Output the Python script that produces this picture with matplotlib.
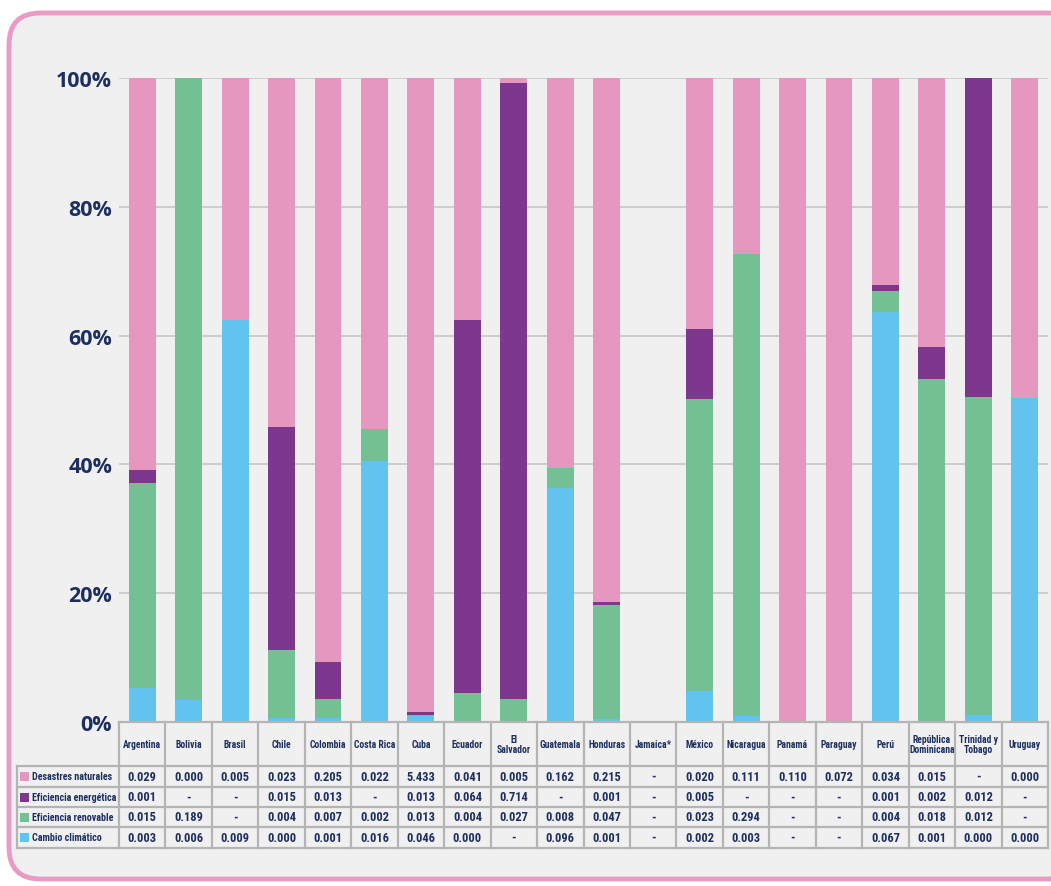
import matplotlib
matplotlib.use("Agg")
import matplotlib.pyplot as plt
import matplotlib.font_manager as fm
from matplotlib.patches import FancyBboxPatch, Rectangle
from matplotlib.lines import Line2D

countries = ["Argentina", "Bolivia", "Brasil", "Chile", "Colombia", "Costa Rica", "Cuba",
             "Ecuador", "El\nSalvador", "Guatemala", "Honduras", "Jamaica*", "México",
             "Nicaragua", "Panamá", "Paraguay", "Perú", "República\nDominicana",
             "Trinidad y\nTobago", "Uruguay"]

series_names = ["Desastres naturales", "Eficiencia energética", "Eficiencia renovable", "Cambio climático"]

# Bar shares (%), stacked bottom to top: cambio, renovable, energetica, desastres
cambio_pct = [5.3, 3.4, 62.4, 0.6, 0.6, 40.5, 0.9, 0.2, 0, 36.3, 0.5, 0, 4.8, 0.9, 0, 0, 63.7, 0.2, 1.1, 50.3]
renovable_pct = [31.8, 96.6, 0, 10.6, 3.0, 5.0, 0.25, 4.3, 3.6, 3.1, 17.7, 0, 45.4, 71.8, 0, 0, 3.2, 53.1, 49.4, 0]
energetica_pct = [2.0, 0, 0, 34.6, 5.7, 0, 0.35, 57.9, 95.6, 0, 0.4, 0, 10.8, 0, 0, 0, 1.0, 4.9, 49.5, 0]
desastres_pct = [60.9, 0, 37.6, 54.2, 90.7, 54.5, 98.5, 37.6, 0.8, 60.6, 81.4, 0, 39.0, 27.3, 100, 100, 32.1, 41.8, 0, 49.7]

# Table values (text)
desastres_txt = ["0.029", "0.000", "0.005", "0.023", "0.205", "0.022", "5.433", "0.041", "0.005", "0.162",
                 "0.215", "-", "0.020", "0.111", "0.110", "0.072", "0.034", "0.015", "-", "0.000"]
energetica_txt = ["0.001", "-", "-", "0.015", "0.013", "-", "0.013", "0.064", "0.714", "-",
                  "0.001", "-", "0.005", "-", "-", "-", "0.001", "0.002", "0.012", "-"]
renovable_txt = ["0.015", "0.189", "-", "0.004", "0.007", "0.002", "0.013", "0.004", "0.027", "0.008",
                 "0.047", "-", "0.023", "0.294", "-", "-", "0.004", "0.018", "0.012", "-"]
cambio_txt = ["0.003", "0.006", "0.009", "0.000", "0.001", "0.016", "0.046", "0.000", "-", "0.096",
              "0.001", "-", "0.002", "0.003", "-", "-", "0.067", "0.001", "0.000", "0.000"]

yticks = [0, 20, 40, 60, 80, 100]
ytick_labels = ["0%", "20%", "40%", "60%", "80%", "100%"]

C_PINK = "#e597c0"
C_PURPLE = "#7d378c"
C_GREEN = "#73c095"
C_BLUE = "#62c4ee"
C_BG = "#f0f0f0"
C_BORDER = "#e89bc4"
C_TEXT = "#1d2f5f"
C_GRID = "#c6c6c6"
C_TABLE = "#b4b4b4"

# look for a condensed face, otherwise use Roboto
COND = {"condensed", "semi-condensed", "extra-condensed", "ultra-condensed", 300, 200, 100, 400}
cand = []
for f in fm.fontManager.ttflist:
    st = f.stretch
    if (isinstance(st, str) and st in COND) or (isinstance(st, int) and st < 500) \
            or "Condensed" in f.name or "Narrow" in f.name:
        cand.append(f)
if cand:
    names = [f.name for f in cand]
    pick = None
    for pref in ["Roboto Condensed", "Roboto", "Open Sans", "Liberation Sans Narrow", "DejaVu Sans"]:
        if pref in names:
            pick = pref
            break
    if pick is None:
        pick = names[0]
    tfont = [pick, "Roboto", "DejaVu Sans"]
    tstretch = "condensed"
else:
    tfont = ["Roboto", "DejaVu Sans"]
    tstretch = "normal"

W, H = 1051, 887
fig = plt.figure(figsize=(W / 100, H / 100), dpi=100)
fig.patch.set_facecolor("white")

def fx(px):
    return px / W

def fy(py):
    return 1 - py / H

panel = FancyBboxPatch((fx(9), fy(880)), fx(1080) - fx(9), fy(14) - fy(880),
                       boxstyle="round,pad=0,rounding_size=0.03",
                       transform=fig.transFigure, facecolor=C_BG, edgecolor=C_BORDER,
                       linewidth=3.5, zorder=0, mutation_aspect=W / H)
fig.add_artist(panel)

ax_left, ax_right = 119, 1048
ax_top, ax_bot = 79, 723
ax = fig.add_axes([fx(ax_left), fy(ax_bot), fx(ax_right) - fx(ax_left), fy(ax_top) - fy(ax_bot)])
ax.set_facecolor("none")

n = len(countries)
x = list(range(n))
bw = 0.58
bottom = [0.0] * n
for vals, col in [(cambio_pct, C_BLUE), (renovable_pct, C_GREEN),
                  (energetica_pct, C_PURPLE), (desastres_pct, C_PINK)]:
    ax.bar(x, vals, bw, bottom=bottom, color=col, zorder=3, linewidth=0)
    bottom = [b + v for b, v in zip(bottom, vals)]

ax.set_xlim(-0.5, n - 0.5)
ax.set_ylim(0, 100)
ax.set_yticks(yticks)
ax.set_yticklabels(ytick_labels, fontfamily="Open Sans", fontweight="bold", fontsize=15.5, color=C_TEXT)
ax.tick_params(axis="y", length=0, pad=5)
ax.set_xticks([])
for s in ax.spines.values():
    s.set_visible(False)
for yt in yticks:
    ax.axhline(yt, color=C_GRID, linewidth=1.2, zorder=1)

# ---- data table drawn below ----
col_w = (ax_right - ax_left) / n
row_edges = [723, 767, 788, 808, 828, 849]
label_left = 17
lw = 1.6

def line(x0, y0, x1, y1):
    fig.add_artist(Line2D([fx(x0), fx(x1)], [fy(y0), fy(y1)], color=C_TABLE, linewidth=lw,
                          transform=fig.transFigure, zorder=5))

line(ax_left, row_edges[0], ax_right, row_edges[0])
for ry in row_edges[1:]:
    line(label_left, ry, ax_right, ry)
for i in range(n + 1):
    xx = ax_left + i * col_w
    line(xx, row_edges[0], xx, row_edges[-1])
line(label_left, row_edges[1], label_left, row_edges[-1])

renderer = fig.canvas.get_renderer()

def ttext(px, py, s, ha="center", size=9.0):
    return fig.text(fx(px), fy(py), s, ha=ha, va="center", fontsize=size, fontweight="bold",
                    family=tfont, fontstretch=tstretch, color=C_TEXT, linespacing=0.92)

def common_fit(texts, max_w, size):
    s = size
    for t in texts:
        w = t.get_window_extent(renderer=renderer).width
        if w > max_w:
            s = min(s, size * max_w / w)
    for t in texts:
        t.set_fontsize(s)

head_texts = []
for i, c in enumerate(countries):
    cx = ax_left + (i + 0.5) * col_w
    cy = (row_edges[0] + row_edges[1]) / 2
    head_texts.append(ttext(cx, cy, c, size=9.0))
common_fit(head_texts, col_w - 1, 9.0)

rows_txt = [desastres_txt, energetica_txt, renovable_txt, cambio_txt]
row_cols = [C_PINK, C_PURPLE, C_GREEN, C_BLUE]
label_texts = []
val_texts = []
for r, (name, vals, col) in enumerate(zip(series_names, rows_txt, row_cols)):
    cy = (row_edges[r + 1] + row_edges[r + 2]) / 2
    fig.add_artist(Rectangle((fx(20), fy(cy + 4.5)), fx(9), fy(0) - fy(9),
                             transform=fig.transFigure, facecolor=col, edgecolor="none", zorder=6))
    label_texts.append(ttext(32, cy, name, ha="left", size=9.0))
    for i, v in enumerate(vals):
        cx = ax_left + (i + 0.5) * col_w
        val_texts.append(ttext(cx, cy, v, size=9.0))

common_fit(label_texts, ax_left - 35, 9.0)
common_fit(val_texts, col_w - 14, 9.0)

fig.savefig("out.png", dpi=100, facecolor=fig.get_facecolor())
